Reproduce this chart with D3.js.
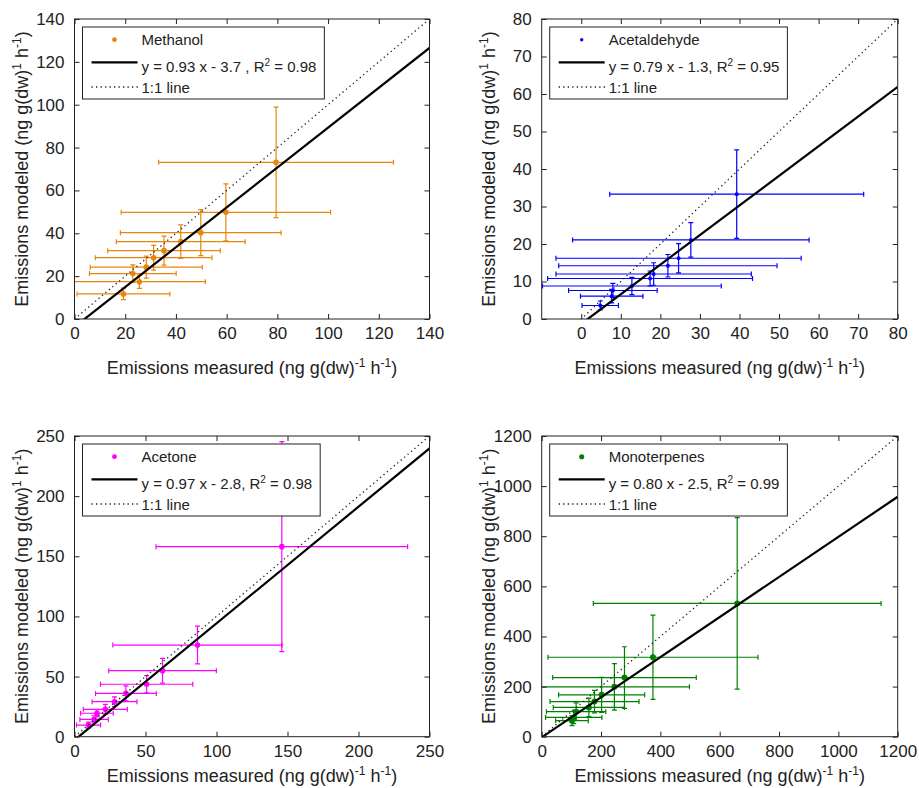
<!DOCTYPE html>
<html>
<head>
<meta charset="utf-8">
<script src="https://cdn.jsdelivr.net/npm/d3@7"></script>
<style>
body { margin: 0; background: #fff; }
svg text { font-family: "Liberation Sans", Arial, sans-serif; fill: #222; }
</style>
</head>
<body>
<div id="chart"></div>
<script>
// Measured (x) vs modeled (y) emissions
const methanolX    = [19.3, 25.6, 23.0, 28.3, 31.2, 35.3, 41.9, 49.8, 59.7, 79.5];
const methanolY    = [11.7, 17.4, 21.2, 24.2, 28.6, 31.9, 36.1, 40.3, 49.8, 73.1];
const methanolXErr = [18.3, 26.0, 17.1, 22.1, 23.0, 22.2, 25.4, 31.7, 41.3, 46.3];
const methanolYErr = [2.7, 3.1, 4.1, 5.1, 5.8, 6.8, 7.8, 10.7, 13.3, 25.8];

const acetaldehydeX    = [4.8, 7.7, 8.0, 12.8, 17.4, 18.3, 21.9, 24.6, 27.7, 39.3];
const acetaldehydeY    = [3.6, 6.1, 7.6, 8.8, 10.8, 12.0, 14.2, 16.2, 21.1, 33.3];
const acetaldehydeXErr = [4.6, 7.9, 11.2, 22.6, 25.9, 24.7, 27.6, 31.0, 29.9, 32.1];
const acetaldehydeYErr = [1.2, 1.8, 1.9, 2.3, 2.0, 3.0, 3.0, 3.9, 4.6, 11.8];

const acetoneX    = [9.9, 13.8, 15.8, 21.7, 28.2, 36.2, 50.8, 62.0, 86.6, 146.0];
const acetoneY    = [9.7, 14.4, 19.5, 22.8, 29.1, 36.0, 43.6, 54.9, 76.2, 158.0];
const acetoneXErr = [8.5, 10.0, 11.5, 15.5, 15.8, 21.4, 32.5, 37.9, 59.6, 88.6];
const acetoneYErr = [2.5, 3.0, 3.0, 4.0, 4.0, 6.2, 7.2, 10.3, 15.7, 87.3];

const monoterpenesX    = [102, 108, 116, 159, 178, 202, 245, 279, 375, 659];
const monoterpenesY    = [64, 77, 100, 117, 140, 167, 199, 236, 317, 532];
const monoterpenesXErr = [55, 95, 100, 120, 150, 145, 253, 242, 354, 485];
const monoterpenesYErr = [20, 25, 35, 37, 45, 70, 93, 123, 168, 342];

// regression fits
const fitSlopes     = [0.93, 0.79, 0.97, 0.80];
const fitIntercepts = [-3.7, -1.3, -2.8, -2.5];
const fitLabels = [
  ["y = 0.93 x - 3.7 , R", "2", " = 0.98"],
  ["y = 0.79 x - 1.3, R", "2", " = 0.95"],
  ["y = 0.97 x - 2.8, R", "2", " = 0.98"],
  ["y = 0.80 x - 2.5, R", "2", " = 0.99"]
];
const seriesNames = ["Methanol", "Acetaldehyde", "Acetone", "Monoterpenes"];

// tick labels
const methanolTicks = [0, 20, 40, 60, 80, 100, 120, 140];
const acetaldehydeTicks = [0, 10, 20, 30, 40, 50, 60, 70, 80];
const acetoneTicks = [0, 50, 100, 150, 200, 250];
const monoterpenesTicks = [0, 200, 400, 600, 800, 1000, 1200];

const width = 919, height = 788;

const svg = d3.select("#chart").append("svg")
    .attr("width", width)
    .attr("height", height);

// one entry per subplot
const panels = [
  { name: seriesNames[0], xs: methanolX, ys: methanolY, xe: methanolXErr, ye: methanolYErr,
    xDomain: [0, 140], yDomain: [0, 140], xTicks: methanolTicks, yTicks: methanolTicks,
    color: "#e8850c", r: 2.8, left: 74.5, top: 19, w: 355, h: 300 },
  { name: seriesNames[1], xs: acetaldehydeX, ys: acetaldehydeY, xe: acetaldehydeXErr, ye: acetaldehydeYErr,
    xDomain: [-10, 80], yDomain: [0, 80], xTicks: acetaldehydeTicks, yTicks: acetaldehydeTicks,
    color: "#0000ff", r: 2, left: 541.7, top: 19, w: 356, h: 300 },
  { name: seriesNames[2], xs: acetoneX, ys: acetoneY, xe: acetoneXErr, ye: acetoneYErr,
    xDomain: [0, 250], yDomain: [0, 250], xTicks: acetoneTicks, yTicks: acetoneTicks,
    color: "#ff00ff", r: 2.8, left: 74.5, top: 436, w: 355, h: 300.7 },
  { name: seriesNames[3], xs: monoterpenesX, ys: monoterpenesY, xe: monoterpenesXErr, ye: monoterpenesYErr,
    xDomain: [0, 1200], yDomain: [0, 1200], xTicks: monoterpenesTicks, yTicks: monoterpenesTicks,
    color: "#008000", r: 3, left: 541.7, top: 436, w: 356, h: 300.7 }
];

// text with superscripts: parts alternate normal / superscript
function supText(sel, parts, supSize, rise) {
  parts.forEach((p, i) => {
    const isSup = i % 2 === 1;
    sel.append("tspan")
        .attr("dy", i === 0 ? 0 : (isSup ? -rise : rise))
        .attr("font-size", isSup ? supSize : null)
        .text(p);
  });
}

const fmt = d3.format("d");

panels.forEach((p, k) => {
  const g = svg.append("g");
  const x = d3.scaleLinear().domain(p.xDomain).range([p.left, p.left + p.w]);
  const y = d3.scaleLinear().domain(p.yDomain).range([p.top + p.h, p.top]);

  g.append("clipPath").attr("id", "clip" + k)
    .append("rect")
      .attr("x", p.left).attr("y", p.top)
      .attr("width", p.w).attr("height", p.h);

  const plot = g.append("g").attr("clip-path", "url(#clip" + k + ")");

  const data = p.xs.map((v, i) => ({ x: v, y: p.ys[i], xe: p.xe[i], ye: p.ye[i] }));

  // error bars
  const cap = 2.5;
  const bars = plot.append("g")
      .attr("stroke", p.color)
      .attr("stroke-width", 1.2)
      .attr("fill", "none");
  data.forEach(d => {
    const x0 = x(d.x - d.xe), x1 = x(d.x + d.xe), cy = y(d.y);
    const y0 = y(d.y - d.ye), y1 = y(d.y + d.ye), cx = x(d.x);
    bars.append("path")
        .attr("d", `M${x0},${cy}H${x1}M${x0},${cy - cap}V${cy + cap}M${x1},${cy - cap}V${cy + cap}`);
    bars.append("path")
        .attr("d", `M${cx},${y0}V${y1}M${cx - cap},${y0}H${cx + cap}M${cx - cap},${y1}H${cx + cap}`);
  });

  plot.selectAll(".pt")
      .data(data)
    .enter().append("circle")
      .attr("class", "pt")
      .attr("cx", d => x(d.x))
      .attr("cy", d => y(d.y))
      .attr("r", p.r)
      .attr("fill", p.color);

  // fit line
  const a = fitSlopes[k], b = fitIntercepts[k];
  const xEnd = p.xDomain[1];
  plot.append("line")
      .attr("x1", x(p.xDomain[0])).attr("y1", y(a * p.xDomain[0] + b))
      .attr("x2", x(xEnd)).attr("y2", y(a * xEnd + b))
      .attr("stroke", "#000")
      .attr("stroke-width", 2.2);

  // 1:1 line
  plot.append("line")
      .attr("x1", x(p.xDomain[0])).attr("y1", y(p.xDomain[0]))
      .attr("x2", x(xEnd)).attr("y2", y(xEnd))
      .attr("stroke", "#222")
      .attr("stroke-width", 1.3)
      .attr("stroke-dasharray", "1.3,3.2");

  // axes: ticks point inward on all four sides
  const bottom = p.top + p.h, right = p.left + p.w;
  g.append("g")
      .attr("transform", "translate(0," + bottom + ")")
      .call(d3.axisBottom(x).tickValues(p.xTicks).tickFormat(fmt).tickSizeInner(-5).tickSizeOuter(0).tickPadding(8))
      .call(s => s.select(".domain").remove());
  g.append("g")
      .attr("transform", "translate(0," + p.top + ")")
      .call(d3.axisTop(x).tickValues(p.xTicks).tickSizeInner(-5).tickSizeOuter(0).tickFormat(""))
      .call(s => s.select(".domain").remove());
  g.append("g")
      .attr("transform", "translate(" + p.left + ",0)")
      .call(d3.axisLeft(y).tickValues(p.yTicks).tickFormat(fmt).tickSizeInner(-5).tickSizeOuter(0).tickPadding(10))
      .call(s => s.select(".domain").remove());
  g.append("g")
      .attr("transform", "translate(" + right + ",0)")
      .call(d3.axisRight(y).tickValues(p.yTicks).tickSizeInner(-5).tickSizeOuter(0).tickFormat(""))
      .call(s => s.select(".domain").remove());

  g.selectAll(".tick line").attr("stroke", "#222");
  g.selectAll(".tick text")
      .attr("font-size", 17)
      .attr("font-family", null)
      .attr("fill", "#222");

  g.append("rect")
      .attr("x", p.left).attr("y", p.top)
      .attr("width", p.w).attr("height", p.h)
      .attr("fill", "none")
      .attr("stroke", "#222")
      .attr("stroke-width", 1);

  // axis labels
  const xl = g.append("text")
      .attr("x", p.left + p.w / 2)
      .attr("y", bottom + (k < 2 ? 55 : 45))
      .attr("text-anchor", "middle")
      .attr("font-size", 18);
  supText(xl, ["Emissions measured (ng g(dw)", "-1", " h", "-1", ")"], 12, 7);

  const yl = g.append("text")
      .attr("transform", "translate(" + (p.left - 47) + "," + (p.top + p.h / 2) + ") rotate(-90)")
      .attr("text-anchor", "middle")
      .attr("font-size", 18);
  supText(yl, ["Emissions modeled (ng g(dw)", "1", " h", "-1", ")"], 12, 7);

  // legend
  const lx = p.left + 8, ly = p.top + 8;
  const legend = g.append("g");
  const box = legend.append("rect")
      .attr("x", lx).attr("y", ly)
      .attr("height", 72)
      .attr("fill", "#fff")
      .attr("stroke", "#222")
      .attr("stroke-width", 1);

  legend.append("circle")
      .attr("cx", lx + 32).attr("cy", ly + 12.7)
      .attr("r", p.r * 0.85)
      .attr("fill", p.color);
  const t1 = legend.append("text")
      .attr("x", lx + 59).attr("y", ly + 18)
      .attr("font-size", 15)
      .text(p.name);

  legend.append("line")
      .attr("x1", lx + 9).attr("x2", lx + 55)
      .attr("y1", ly + 35.4).attr("y2", ly + 35.4)
      .attr("stroke", "#000").attr("stroke-width", 2.2);
  const t2 = legend.append("text")
      .attr("x", lx + 59).attr("y", ly + 45)
      .attr("font-size", 15);
  supText(t2, fitLabels[k], 10, 6);

  legend.append("line")
      .attr("x1", lx + 9).attr("x2", lx + 58)
      .attr("y1", ly + 60).attr("y2", ly + 60)
      .attr("stroke", "#222").attr("stroke-width", 1.3)
      .attr("stroke-dasharray", "1.3,3.2");
  const t3 = legend.append("text")
      .attr("x", lx + 59).attr("y", ly + 65.5)
      .attr("font-size", 15)
      .text("1:1 line");

  const tw = Math.max(t1.node().getComputedTextLength(),
                      t2.node().getComputedTextLength(),
                      t3.node().getComputedTextLength());
  box.attr("width", 59 + tw + 8);
});
</script>
</body>
</html>
